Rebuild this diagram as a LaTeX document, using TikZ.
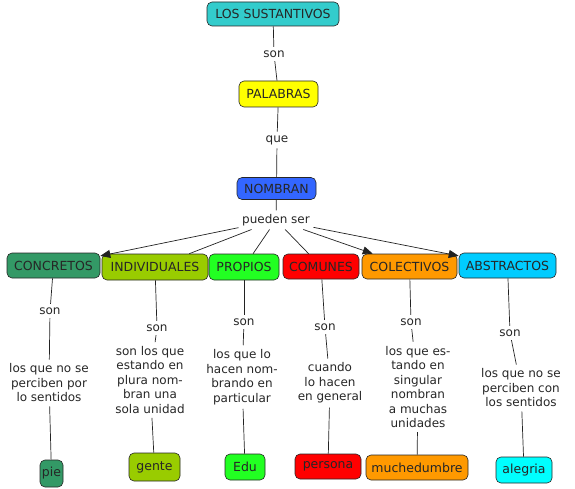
\documentclass[tikz,border=0pt]{standalone}
\usepackage{fontspec}
\setmainfont{DejaVu Sans}
\usetikzlibrary{arrows.meta}
\definecolor{cteal}{HTML}{33CCCC}
\definecolor{cyel}{HTML}{FFFF00}
\definecolor{cblue}{HTML}{3366FF}
\definecolor{cdkgreen}{HTML}{339966}
\definecolor{colive}{HTML}{99CC00}
\definecolor{cgreen}{HTML}{22FF22}
\definecolor{cred}{HTML}{FF0000}
\definecolor{corange}{HTML}{FF9900}
\definecolor{csky}{HTML}{00CCFF}
\definecolor{ccyan}{HTML}{00FFFF}
\definecolor{cline}{HTML}{222222}
\begin{document}
\begin{tikzpicture}[x=1pt,y=-1pt,
  concept/.style={draw=black!85, line width=0.6pt, rounded corners=5pt,
    minimum height=25pt, inner sep=1.5pt, text=black!85,
    font=\fontsize{12.5}{14.5}\selectfont},
  lbl/.style={inner sep=3.5pt, text=black!85, font=\fontsize{12}{14.5}\selectfont},
  txt/.style={align=center, inner sep=4pt, text=black!85, font=\fontsize{12}{14.5}\selectfont},
  conn/.style={draw=cline, line width=0.7pt},
  arr/.style={conn, -{Triangle[length=10pt,width=8pt]}}
]
\useasboundingbox (0,0) rectangle (575,489);

% concepts
\node[concept, fill=cteal, minimum width=132pt, minimum height=24pt] (los) at (273,14) {LOS SUSTANTIVOS};
\node[concept, fill=cyel, minimum width=79pt, minimum height=26pt] (pal) at (278.5,94) {PALABRAS};
\node[concept, fill=cblue, minimum width=79pt, minimum height=22pt] (nom) at (276.5,188.5) {NOMBRAN};

\node[concept, fill=cdkgreen, minimum width=93pt] (conc) at (53.5,265.5) {CONCRETOS};
\node[concept, fill=colive, minimum width=106pt, minimum height=26pt] (ind) at (155,267) {INDIVIDUALES};
\node[concept, fill=cgreen, minimum width=70pt, minimum height=26pt] (prop) at (244,267) {PROPIOS};
\node[concept, fill=cred, minimum width=76pt] (com) at (321,266.5) {COMUNES};
\node[concept, fill=corange, minimum width=95pt] (col) at (409.5,266.5) {COLECTIVOS};
\node[concept, fill=csky, minimum width=97pt] (abs) at (507.5,265.5) {ABSTRACTOS};

\node[concept, fill=cdkgreen, minimum width=23pt, minimum height=27pt] (pie) at (51.5,473.5) {pie};
\node[concept, fill=colive, minimum width=51pt, minimum height=28pt] (gente) at (154.5,467) {gente};
\node[concept, fill=cgreen, minimum width=40pt, minimum height=26pt] (edu) at (245,467) {Edu};
\node[concept, fill=cred, minimum width=66pt] (pers) at (328,466.5) {persona};
\node[concept, fill=corange, minimum width=102pt] (much) at (417,467.5) {muchedumbre};
\node[concept, fill=ccyan, minimum width=56pt, minimum height=26pt] (aleg) at (524,470) {alegria};

% linking phrases
\node[lbl] (l1) at (274,54) {son};
\node[lbl] (l2) at (277,140) {que};
\node[lbl] (l3) at (276,220) {pueden ser};

\node[lbl] (s1) at (50,311) {son};
\node[lbl] (s2) at (157,328) {son};
\node[lbl] (s3) at (244,322) {son};
\node[lbl] (s4) at (325,327) {son};
\node[lbl] (s5) at (411,322) {son};
\node[lbl] (s6) at (510,333) {son};

\node[txt] (t1) at (49,383) {los que no se\\perciben por\\lo sentidos};
\node[txt] (t2) at (150,380) {son los que\\estando en\\plura nom-\\bran una\\sola unidad};
\node[txt] (t3) at (242,377) {los que lo\\hacen nom-\\brando en\\particular};
\node[txt] (t4) at (330,383) {cuando\\lo hacen\\en general};
\node[txt] (t5) at (418,387) {los que es-\\tando en\\singular\\nombran\\a muchas\\unidades};
\node[txt] (t6) at (521,388) {los que no se\\perciben con\\los sentidos};

% connectors
\draw[conn] (los) -- (l1);
\draw[conn] (l1) -- (pal);
\draw[conn] (pal) -- (l2);
\draw[conn] (l2) -- (nom);
\draw[conn] (nom) -- (l3);

\draw[arr] (l3) -- (conc);
\draw[conn] (l3) -- (ind);
\draw[conn] (l3) -- (prop);
\draw[conn] (l3) -- (com);
\draw[arr] (l3) -- (col);
\draw[arr] (l3) -- (abs);

\draw[conn] (conc) -- (s1);
\draw[conn] (s1) -- (t1);
\draw[conn] (t1) -- (pie);

\draw[conn] (ind) -- (s2);
\draw[conn] (s2) -- (t2);
\draw[conn] (t2) -- (gente);

\draw[conn] (prop) -- (s3);
\draw[conn] (s3) -- (t3);
\draw[conn] (t3) -- (edu);

\draw[conn] (com) -- (s4);
\draw[conn] (s4) -- (t4);
\draw[conn] (t4) -- (pers);

\draw[conn] (col) -- (s5);
\draw[conn] (s5) -- (t5);
\draw[conn] (t5) -- (much);

\draw[conn] (abs) -- (s6);
\draw[conn] (s6) -- (t6);
\draw[conn] (t6) -- (aleg);
\end{tikzpicture}
\end{document}
